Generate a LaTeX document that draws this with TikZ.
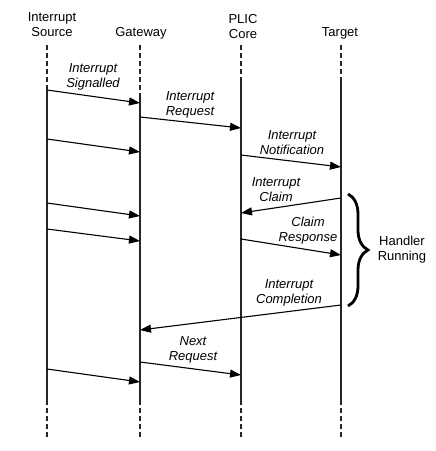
\documentclass[tikz,border=0pt]{standalone}
\usepackage{fontspec}
\setmainfont{Liberation Sans}
\usepackage{tikz}
\usetikzlibrary{arrows.meta}
\usetikzlibrary{decorations.pathreplacing}

\begin{document}
\begin{tikzpicture}[x=1pt,y=-1pt,
    life/.style={line width=1.1pt,black!85},
    lifedash/.style={life,dash pattern=on 5pt off 3pt},
    msg/.style={line width=1.1pt,-{Triangle[length=11pt,width=8pt]}},
    head/.style={font=\fontsize{13}{15}\selectfont,align=center,anchor=base,inner sep=0pt},
    lbl/.style={head,font=\fontsize{13}{15}\selectfont\itshape}]
      \useasboundingbox (0,0) rectangle (436,451);
      \node[head] (srchead) at (52,36) {Interrupt\\Source};
      \node[head] (gwhead) at (141,36) {Gateway};
      \node[head] (plichead) at (243,38) {PLIC\\Core};
      \node[head] (tgthead) at (340,36) {Target};
      \foreach \n/\x/\y in {src/47/90, gw/140/97, plic/241/80, tgt/341/80} {
        \coordinate (\n) at (\x,0);
        \draw[lifedash] (\x,45) -- (\x,\y);
        \draw[life] (\x,\y) -- (\x,400);
        \draw[lifedash] (\x,400) -- (\x,437);
      }
      \draw[msg] (src |- 0,90) -- (gw |- 0,103);
      \node[lbl] (signalled) at (93,87) {Interrupt\\Signalled};
      \draw[msg] (gw |- 0,117) -- (plic |- 0,128);
      \node[lbl] (request) at (190,115) {Interrupt\\Request};
      \draw[msg] (src |- 0,139) -- (gw |- 0,152);
      \draw[msg] (plic |- 0,155) -- (tgt |- 0,167);
      \node[lbl] (notify) at (292,154) {Interrupt\\Notification};
      \draw[msg] (tgt |- 0,198) -- (plic |- 0,213);
      \node[lbl] (claim) at (276,201) {Interrupt\\Claim};
      \draw[msg] (src |- 0,203) -- (gw |- 0,216);
      \draw[msg] (src |- 0,229) -- (gw |- 0,241);
      \draw[msg] (plic |- 0,239) -- (tgt |- 0,255);
      \node[lbl] (response) at (308,241) {Claim\\Response};
      \draw[msg] (tgt |- 0,305) -- (gw |- 0,330);
      \node[lbl] (complete) at (289,303) {Interrupt\\Completion};
      \draw[msg] (gw |- 0,362) -- (plic |- 0,375);
      \node[lbl] (next) at (193,360) {Next\\Request};
      \draw[msg] (src |- 0,369) -- (gw |- 0,382);
      \draw[line width=2.8pt,decorate,decoration={brace,amplitude=20pt}] (348,194) -- (348,306);
      \node[head] (handler) at (402,260) {Handler\\Running};
    \end{tikzpicture}
\end{document}
